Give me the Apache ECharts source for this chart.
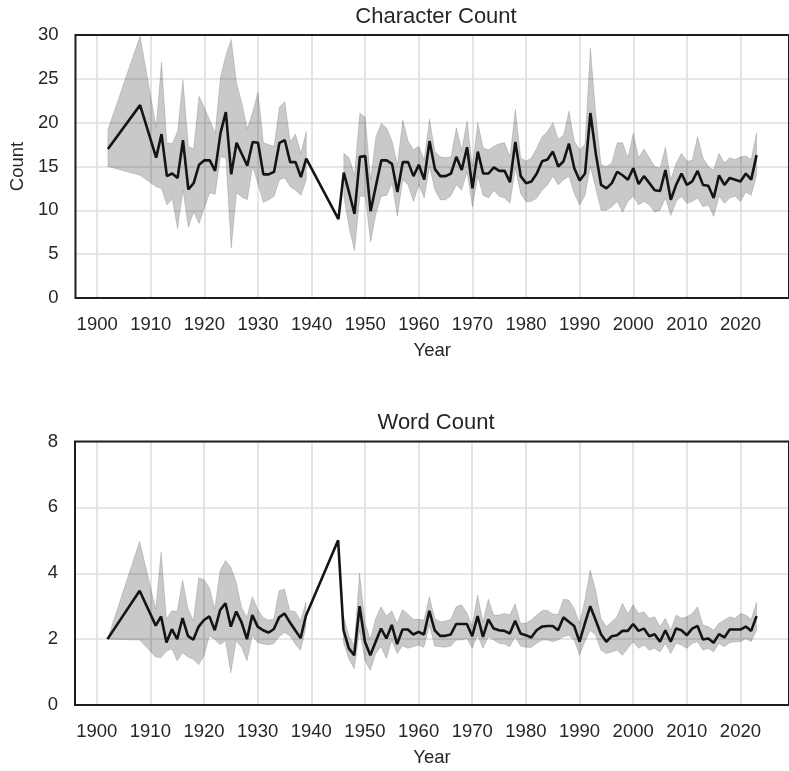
<!DOCTYPE html>
<html>
<head>
<meta charset="utf-8">
<script src="https://cdn.jsdelivr.net/npm/echarts@6/dist/echarts.min.js"></script>
<style>
html,body{margin:0;padding:0;background:#fff;}
#chart{width:789px;height:771px;}
</style>
</head>
<body>
<div id="chart"></div>
<script>
const years = [1902,1908,1911,1912,1913,1914,1915,1916,1917,1918,1919,1920,1921,1922,1923,1924,1925,1926,1927,1928,1929,1930,1931,1932,1933,1934,1935,1936,1937,1938,1939,1945,
1946,1947,1948,1949,1950,1951,1952,1953,1954,1955,1956,1957,1958,1959,1960,1961,1962,1963,1964,1965,1966,1967,1968,1969,1970,1971,1972,1973,1974,1975,1976,1977,1978,1979,1980,1981,1982,1983,1984,1985,1986,1987,1988,1989,1990,1991,1992,1993,1994,1995,1996,1997,1998,1999,2000,2001,2002,2003,2004,2005,2006,2007,2008,2009,2010,2011,2012,2013,2014,2015,2016,2017,2018,2019,2020,2021,2022,2023];

const charMean = [17.0,22.0,16.0,18.7,13.9,14.2,13.7,18.0,12.4,13.1,15.2,15.7,15.7,14.5,18.8,21.2,14.1,17.7,16.4,15.1,17.8,17.7,14.1,14.1,14.4,17.7,18.0,15.5,15.5,13.8,15.9,9.0,
14.3,12.0,9.6,16.1,16.2,9.9,12.8,15.7,15.7,15.3,12.1,15.5,15.5,13.9,15.2,13.5,17.9,14.7,13.9,13.9,14.2,16.1,14.6,17.2,12.5,16.7,14.2,14.2,14.9,14.5,14.5,13.2,17.8,13.9,13.1,13.3,14.2,15.6,15.8,16.7,15.0,15.6,17.6,14.8,13.4,14.2,21.1,16.5,12.9,12.5,13.1,14.4,14.0,13.5,14.8,13.0,13.9,13.1,12.3,12.2,14.6,11.2,12.9,14.2,12.9,13.3,14.5,12.9,12.8,11.4,14.0,12.9,13.7,13.5,13.3,14.2,13.5,16.3];
const charLow = [15.0,14.0,12.7,12.5,10.6,11.3,7.9,12.3,8.1,9.8,8.5,10.3,12.0,11.8,16.1,16.0,5.7,12.0,11.5,11.2,15.0,13.0,10.9,11.2,11.6,13.5,13.7,12.7,12.3,11.7,13.5,null,
11.6,8.0,5.4,11.6,11.6,6.4,9.6,11.6,11.7,13.1,9.3,13.5,12.9,11.0,12.9,11.4,15.0,12.3,11.2,11.2,11.7,12.9,12.3,14.4,10.4,13.9,11.7,11.4,12.3,11.6,11.4,10.8,14.8,11.9,11.0,11.0,11.4,12.3,12.9,13.9,12.9,13.5,13.9,11.9,10.6,11.7,15.0,12.5,10.0,10.0,10.4,11.0,9.8,11.0,11.6,10.6,11.0,10.6,9.8,10.0,11.4,9.4,11.0,11.6,10.8,11.0,11.4,10.4,10.6,9.3,11.6,10.8,11.4,11.6,11.0,12.1,11.7,14.0];
const charHigh = [19.2,29.9,19.5,26.9,17.7,17.6,19.0,24.9,17.3,17.0,23.0,21.7,20.3,18.8,25.2,27.7,29.5,24.5,22.2,19.3,21.2,23.5,17.7,17.5,17.3,21.8,22.4,17.8,18.7,16.5,19.0,null,
16.5,16.0,14.0,21.1,20.6,13.5,18.4,19.9,19.4,17.9,15.2,20.3,17.9,16.9,17.3,15.8,20.4,16.7,16.1,16.0,16.1,19.4,16.9,20.2,15.0,20.0,17.1,16.9,17.3,17.6,17.7,16.1,21.5,16.0,15.6,16.0,17.1,18.4,19.0,20.0,18.1,18.6,21.3,17.9,16.9,17.5,28.5,21.0,15.2,15.0,15.4,17.7,17.7,16.0,18.8,16.0,17.0,16.0,15.0,14.8,17.2,13.5,15.4,16.5,15.6,15.7,18.4,16.0,15.0,14.6,16.5,15.4,16.0,15.8,16.1,16.2,15.8,18.8];

const wordMean = [2.0,3.47,2.41,2.69,1.90,2.30,2.00,2.64,2.10,1.98,2.38,2.58,2.69,2.27,2.88,3.09,2.38,2.84,2.51,2.00,2.73,2.38,2.27,2.20,2.30,2.66,2.78,2.51,2.27,2.03,2.71,5.0,
2.27,1.72,1.51,3.0,1.92,1.51,1.92,2.32,2.02,2.43,1.85,2.29,2.29,2.14,2.22,2.14,2.86,2.27,2.10,2.10,2.14,2.46,2.46,2.46,2.09,2.70,2.07,2.60,2.32,2.27,2.25,2.17,2.56,2.17,2.12,2.05,2.27,2.38,2.40,2.40,2.27,2.66,2.53,2.40,1.92,2.48,3.0,2.58,2.15,1.92,2.09,2.12,2.25,2.25,2.46,2.25,2.32,2.09,2.15,1.92,2.27,1.92,2.32,2.27,2.12,2.32,2.40,1.99,2.02,1.89,2.15,2.05,2.29,2.29,2.29,2.38,2.25,2.70];
const wordLow = [2.0,1.97,1.46,1.44,1.64,1.70,1.34,1.59,1.46,1.39,1.22,1.49,2.10,2.00,1.83,1.95,0.98,1.95,1.75,1.34,2.10,1.90,1.85,1.83,1.87,2.07,2.20,2.10,1.85,1.66,2.36,null,
1.90,1.40,1.10,2.27,1.35,1.05,1.56,1.77,1.41,1.97,1.56,1.79,1.72,1.77,1.82,1.75,2.43,1.79,1.77,1.75,1.79,1.97,1.97,2.02,1.72,2.12,1.72,2.07,1.97,1.87,1.85,1.77,2.07,1.79,1.75,1.75,1.87,1.97,1.97,1.92,1.97,2.07,2.12,1.97,1.51,1.92,2.27,2.12,1.66,1.56,1.61,1.66,1.51,1.72,1.92,1.72,1.82,1.66,1.72,1.61,1.87,1.56,1.87,1.82,1.72,1.87,1.92,1.66,1.72,1.61,1.87,1.77,1.89,1.92,1.92,2.02,1.92,2.27];
const wordHigh = [2.0,4.97,2.91,4.64,2.61,2.86,2.84,3.80,2.94,2.56,3.86,3.80,3.57,2.91,4.08,4.39,4.18,3.73,2.96,2.66,3.29,2.91,2.66,2.58,2.61,3.47,3.52,2.86,2.84,2.56,3.12,null,
2.70,2.10,1.80,4.00,2.50,2.00,2.63,2.98,2.70,2.86,2.48,2.90,2.76,2.60,2.60,2.58,3.29,2.63,2.53,2.55,2.60,2.98,3.04,2.80,2.40,3.34,2.53,3.21,2.73,2.73,2.78,2.73,3.07,2.48,2.48,2.58,2.73,2.86,2.88,2.76,2.75,3.21,3.19,2.93,2.48,3.19,4.10,3.49,2.63,2.38,2.53,2.68,3.09,2.78,3.04,2.78,2.83,2.63,2.68,2.38,2.63,2.27,2.73,2.63,2.68,2.78,2.98,2.43,2.38,2.27,2.48,2.58,2.68,2.63,2.78,2.73,2.60,3.11];

const xTicks = [1900,1910,1920,1930,1940,1950,1960,1970,1980,1990,2000,2010,2020];
const charTicks = [0,5,10,15,20,25,30];
const wordTicks = [0,2,4,6,8];

const FONT = '"Liberation Sans", Arial, sans-serif';
const TXT = '#262626';
const TICK_FS = 18.5;

function pairs(vals){ return years.map((y,i)=> [y, vals[i] == null ? '-' : vals[i]]); }

function xAxisFor(idx, name){
  return {
    type:'value', gridIndex: idx, min: 1895.95, max: 2029.05,
    name: name, nameLocation:'middle', nameGap: 43,
    nameTextStyle:{fontFamily:FONT, fontSize:TICK_FS, color:TXT},
    axisLine:{show:false}, axisTick:{show:false, customValues: xTicks},
    axisLabel:{customValues: xTicks, formatter: v => String(v), fontFamily:FONT, fontSize:TICK_FS, color:TXT, margin:17},
    splitLine:{show:true, lineStyle:{color:'#dedede', width:1.6}}
  };
}
function yAxisFor(idx, ticks, name){
  return {
    type:'value', gridIndex: idx, min: ticks[0], max: ticks[ticks.length-1], interval: ticks[1]-ticks[0],
    name: name, nameLocation:'middle', nameGap: 45,
    nameTextStyle:{fontFamily:FONT, fontSize:TICK_FS, color:TXT},
    axisLine:{show:false}, axisTick:{show:false},
    axisLabel:{fontFamily:FONT, fontSize:TICK_FS, color:TXT, margin:17},
    splitLine:{show:true, lineStyle:{color:'#dedede', width:1.6}}
  };
}
function bandSeries(idx, lo, hi, mean){
  const rows = years.map((y,i)=> [y, lo[i] == null ? '-' : lo[i], hi[i] == null ? '-' : hi[i]]);
  return [
    {type:'custom', xAxisIndex:idx, yAxisIndex:idx, data: rows, encode:{x:0, y:[1,2]}, silent:true, z:2,
     renderItem: function(params, api){
       if (params.dataIndex !== 0) return null;
       // split into contiguous segments where lo/hi exist
       const segs = []; let cur = [];
       for (let i = 0; i < years.length; i++){
         if (lo[i] == null || hi[i] == null){ if (cur.length) segs.push(cur); cur = []; }
         else cur.push(i);
       }
       if (cur.length) segs.push(cur);
       const children = segs.filter(s => s.length > 1).map(s => {
         const pts = [];
         s.forEach(i => pts.push(api.coord([years[i], hi[i]])));
         for (let k = s.length - 1; k >= 0; k--) pts.push(api.coord([years[s[k]], lo[s[k]]]));
         return {type:'polygon', shape:{points: pts},
                 style:{fill:'rgba(0,0,0,0.21)', stroke:'rgba(0,0,0,0.14)', lineWidth:1}};
       });
       return {type:'group', children: children};
     }},
    {type:'line', xAxisIndex:idx, yAxisIndex:idx, data: pairs(mean), symbol:'none',
     lineStyle:{color:'#141414', width:2.6}, z:4}
  ];
}

const chart = echarts.init(document.getElementById('chart'), null, {renderer:'canvas'});
chart.setOption({
  animation:false,
  backgroundColor:'#ffffff',
  grid:[
    {left:75, top:35, right:-10, height:263, show:true, z:10, borderColor:'#1e1e1e', borderWidth:2, backgroundColor:'transparent'},
    {left:75, top:441.5, right:-10, height:263.5, show:true, z:10, borderColor:'#1e1e1e', borderWidth:2, backgroundColor:'transparent'}
  ],
  xAxis:[xAxisFor(0,'Year'), xAxisFor(1,'Year')],
  yAxis:[yAxisFor(0, charTicks, 'Count'), yAxisFor(1, wordTicks, '')],
  graphic:[
    {type:'text', x:436, y:17, style:{text:'Character Count', font:'22px ' + FONT, fill:TXT, align:'center', verticalAlign:'middle', textAlign:'center', textVerticalAlign:'middle'}},
    {type:'text', x:436, y:423, style:{text:'Word Count', font:'22px ' + FONT, fill:TXT, align:'center', verticalAlign:'middle', textAlign:'center', textVerticalAlign:'middle'}}
  ],
  series: [].concat(
    bandSeries(0, charLow, charHigh, charMean),
    bandSeries(1, wordLow, wordHigh, wordMean)
  )
});
</script>
</body>
</html>
